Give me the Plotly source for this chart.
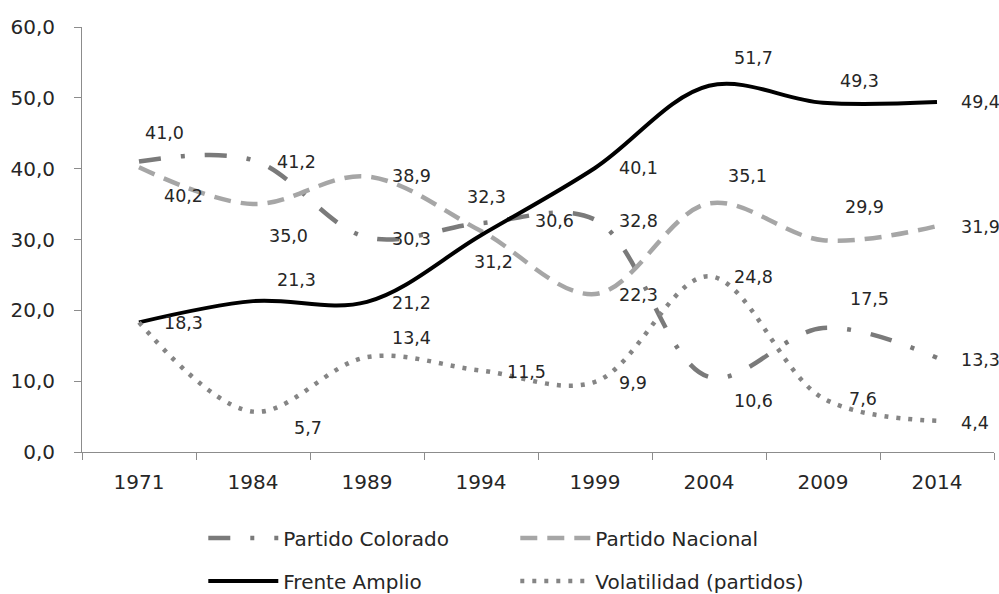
import plotly.graph_objects as go

years = ["1971", "1984", "1989", "1994", "1999", "2004", "2009", "2014"]
colorado = [41.0, 41.2, 30.3, 32.3, 32.8, 10.6, 17.5, 13.3]
nacional = [40.2, 35.0, 38.9, 31.2, 22.3, 35.1, 29.9, 31.9]
frente = [18.3, 21.3, 21.2, 30.6, 40.1, 51.7, 49.3, 49.4]
volatilidad = [18.3, 5.7, 13.4, 11.5, 9.9, 24.8, 7.6, 4.4]
y_ticks = [0, 10, 20, 30, 40, 50, 60]

# label offsets (pixels) : (xshift, yshift); None = no label
off_colorado = [(4, 29), (22, -2), (23, -2), (-16, 26), (22, -1), (23, -24), (25, 29), (22, -2)]
off_nacional = [(23, -29), (14, -32), (23, 0), (-9, -31), (22, -1), (17, 27), (20, 33), (22, -1)]
off_frente = [(23, -1), (22, 21), (23, -1), (52, 14), (22, 0), (23, 28), (15, 22), (22, 0)]
off_volat = [None, (39, -16), (23, 19), (24, -1), (22, -1), (23, -1), (24, -1), (22, -2)]

FONT = "DejaVu Sans"
TXT = "#262626"
AX = "#8c8c8c"

series = [
    ("Partido Colorado", colorado, dict(color="#7a7a7a", width=4.5, dash="22px,20px,4px,20px"), "legend", off_colorado),
    ("Partido Nacional", nacional, dict(color="#a6a6a6", width=4.5, dash="17px,10px"), "legend", off_nacional),
    ("Frente Amplio", frente, dict(color="#000000", width=4), "legend2", off_frente),
    ("Volatilidad (partidos)", volatilidad, dict(color="#858585", width=4.5, dash="4px,8px"), "legend2", off_volat),
]

fig = go.Figure()
for name, vals, line, leg, offs in series:
    line = dict(line, shape="spline", smoothing=1.0)
    fig.add_trace(go.Scatter(x=years, y=vals, mode="lines", name=name, line=line, legend=leg))
    for i, (v, o) in enumerate(zip(vals, offs)):
        if o is None:
            continue
        fig.add_annotation(
            x=i, y=v, xref="x", yref="y", text=f"{v:.1f}".replace(".", ","),
            showarrow=False, xanchor="left", yanchor="middle",
            xshift=o[0], yshift=o[1],
            font=dict(family=FONT, size=17.5, color=TXT),
        )

leg_common = dict(orientation="h", x=0.133, xanchor="left", yanchor="middle",
                  entrywidth=227, entrywidthmode="pixels", itemwidth=70,
                  font=dict(family=FONT, size=20, color=TXT), bgcolor="rgba(0,0,0,0)")

fig.update_layout(
    width=999, height=594,
    margin=dict(l=82, r=5, t=27, b=142, autoexpand=False),
    paper_bgcolor="white", plot_bgcolor="white",
    separators=",.",
    font=dict(family=FONT, size=20, color=TXT),
    legend=dict(leg_common, y=-0.2024),
    legend2=dict(leg_common, y=-0.3035),
    xaxis=dict(type="category", range=[-0.5, 7.5], tickson="boundaries",
               ticks="outside", ticklen=7, tickcolor=AX, showline=True, linecolor=AX,
               linewidth=1, showgrid=False, zeroline=False, ticklabelstandoff=12,
               tickfont=dict(family=FONT, size=20, color=TXT)),
    yaxis=dict(range=[0, 60], tickvals=y_ticks, tickformat=".1f",
               ticks="outside", ticklen=7, tickcolor=AX, showline=True, linecolor=AX,
               linewidth=1, showgrid=False, zeroline=False, ticklabelstandoff=15,
               tickfont=dict(family=FONT, size=20, color=TXT)),
)

fig.write_html("out.html", config={"displayModeBar": False},
               post_script="document.body.style.margin='0';")
